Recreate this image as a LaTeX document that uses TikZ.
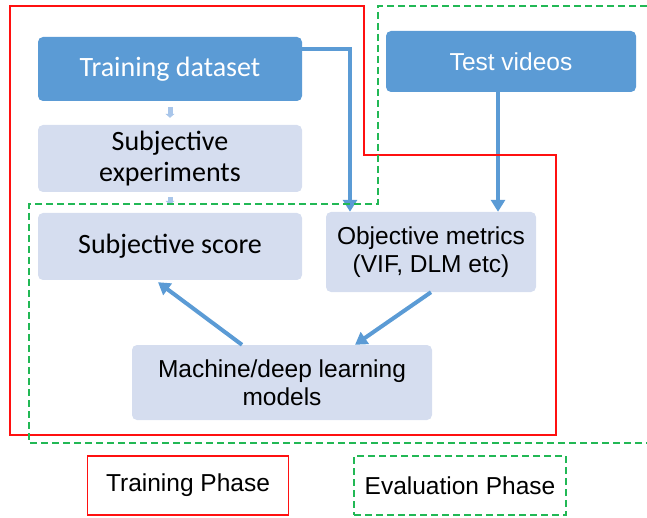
\documentclass[tikz,border=0pt]{standalone}
\usepackage{fontspec}
\setmainfont{Liberation Sans}
\newfontfamily\calfont{Carlito}
\usetikzlibrary{arrows.meta}
\definecolor{boxblue}{HTML}{5B9BD5}
\definecolor{boxgrey}{HTML}{D5DDEF}
\definecolor{paleblue}{HTML}{A9C6EA}
\definecolor{phasered}{HTML}{FF1010}
\definecolor{phasegreen}{HTML}{22B855}
\begin{document}
\begin{tikzpicture}[x=1pt, y=-1pt,
  darkbox/.style={fill=boxblue, text=white, rounded corners=5pt, inner sep=0pt, align=center},
  lightbox/.style={fill=boxgrey, text=black, rounded corners=5pt, inner sep=0pt, align=center},
  calitext/.style={font=\calfont\fontsize{28}{31}\selectfont},
  sanstext/.style={font=\fontsize{24.5}{28}\selectfont},
  flow/.style={draw=boxblue, line width=4pt, -{Triangle[width=14pt,length=12pt]}},
  faint/.style={draw=paleblue, line width=5pt, -{Triangle[width=9pt,length=4pt]}},
  trainline/.style={draw=phasered, line width=1.8pt},
  evalline/.style={draw=phasegreen, line width=2.2pt, dash pattern=on 7pt off 4pt}]
  \useasboundingbox (0,0) rectangle (647,518);

  % boxes of the flow
  \node[darkbox, calitext, minimum width=264pt, minimum height=64pt] (trainset) at (170,69)
    {Training dataset};
  \node[lightbox, calitext, minimum width=264pt, minimum height=67pt] (subjexp) at (170,158.5)
    {Subjective\\experiments};
  \node[lightbox, calitext, minimum width=264pt, minimum height=67pt] (subjscore) at (170,246.5)
    {Subjective score};
  \node[lightbox, sanstext, minimum width=210pt, minimum height=80pt] (objmetric) at (431,252)
    {Objective metrics\\(VIF, DLM etc)};
  \node[lightbox, sanstext, minimum width=300pt, minimum height=75pt] (mlmodel) at (282,382.5)
    {Machine/deep learning\\models};
  \node[darkbox, sanstext, minimum width=250pt, minimum height=61pt] (testvid) at (511,61.5)
    {Test videos};

  % connectors
  \draw[faint, shorten <=6pt, shorten >=7pt] (trainset.south) -- (subjexp.north);
  \draw[faint, shorten <=5pt, shorten >=8pt] (subjexp.south) -- (subjscore.north);
  \draw[flow] ([yshift=20pt]trainset.east) -| ([xshift=-81pt]objmetric.north);
  \draw[flow] ([xshift=-13pt]testvid.south) -- ([xshift=67pt]objmetric.north);
  \draw[flow] (objmetric.south) -- ([xshift=73pt]mlmodel.north);
  \draw[flow] ([xshift=-40pt]mlmodel.north) -- ([xshift=-12pt, yshift=-2pt]subjscore.south);

  % phase outlines
  \draw[trainline] (10,6) -- (364,6) -- (364,155) -- (556,155) -- (556,435) -- (10,435) -- cycle;
  \draw[evalline] (647,6) -- (378,6) -- (378,204) -- (29,204) -- (29,443) -- (647,443);

  % legend
  \node[trainline, sanstext, minimum width=201pt, minimum height=59pt, inner sep=0pt] (trainkey) at (188,485.5)
    {Training Phase};
  \node[evalline, sanstext, minimum width=212pt, minimum height=59pt, inner sep=0pt] (evalkey) at (460,485.5)
    {Evaluation Phase};
\end{tikzpicture}
\end{document}
